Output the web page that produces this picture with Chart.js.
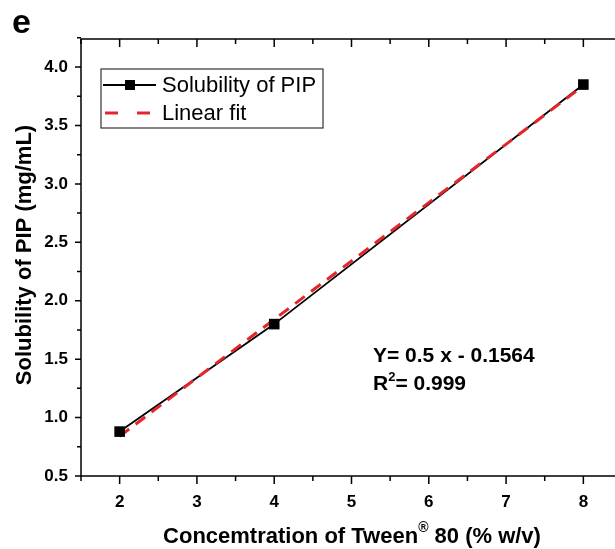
<!DOCTYPE html>
<html lang="en">
<head>
<meta charset="UTF-8">
<title>Solubility of PIP</title>
<script src="https://cdn.jsdelivr.net/npm/chart.js@4.4.0/dist/chart.umd.min.js"></script>
<style>
  html, body { margin: 0; padding: 0; background: #fff; overflow: hidden; }
  #wrap { width: 632px; height: 549px; }
</style>
</head>
<body>
<div id="wrap"><canvas id="myChart" width="632" height="549"></canvas></div>
<script>
// values
const tweenConc = [2, 4, 8];
const solubility = [0.88, 1.80, 3.85];
const fitX = [2, 8];
const fitY = [0.84, 3.84];
const yTicks = [0.5, 1.0, 1.5, 2.0, 2.5, 3.0, 3.5, 4.0];
const xTicks = [2, 3, 4, 5, 6, 7, 8];

const FONT = "'Liberation Sans', Arial, sans-serif";
const RED = '#e3262b';

// box + ticks + legend + text, Origin style
const frame = {
  id: 'frame',
  afterDraw(chart) {
    const ctx = chart.ctx, a = chart.chartArea;
    const xs = chart.scales.x, ys = chart.scales.y;
    ctx.save();
    ctx.strokeStyle = '#000';
    ctx.lineWidth = 1.5;
    ctx.strokeRect(a.left, a.top, a.right - a.left, a.bottom - a.top);

    // y ticks: outward on left, inward on right
    for (let v = 0.5; v <= 4.25; v += 0.25) {
      const py = ys.getPixelForValue(v);
      const major = Math.abs(v * 2 - Math.round(v * 2)) < 1e-6;
      const len = major ? 6 : 4;
      ctx.beginPath();
      ctx.moveTo(a.left, py); ctx.lineTo(a.left - len, py);
      ctx.moveTo(a.right, py); ctx.lineTo(a.right - len, py);
      ctx.stroke();
    }
    // x ticks: outward on bottom, inward on top
    for (let v = 1.5; v <= 8.5; v += 0.5) {
      const px = xs.getPixelForValue(v);
      const major = Math.abs(v - Math.round(v)) < 1e-6;
      const len = major ? 8 : 5;
      ctx.beginPath();
      ctx.moveTo(px, a.bottom); ctx.lineTo(px, a.bottom + len);
      ctx.moveTo(px, a.top); ctx.lineTo(px, a.top + len);
      ctx.stroke();
    }

    // legend
    ctx.strokeStyle = '#333';
    ctx.lineWidth = 1.2;
    ctx.strokeRect(101, 69, 222, 59);
    ctx.strokeStyle = '#000';
    ctx.lineWidth = 1.8;
    ctx.beginPath(); ctx.moveTo(103, 85); ctx.lineTo(156, 85); ctx.stroke();
    ctx.fillStyle = '#000';
    ctx.fillRect(125, 80, 10, 10);
    ctx.strokeStyle = RED;
    ctx.lineWidth = 3;
    ctx.beginPath();
    ctx.moveTo(105, 113); ctx.lineTo(118, 113);
    ctx.moveTo(137, 113); ctx.lineTo(150, 113);
    ctx.stroke();
    ctx.font = '22px ' + FONT;
    ctx.textBaseline = 'alphabetic';
    ctx.textAlign = 'left';
    ctx.fillText(chart.data.datasets[0].label, 162, 92);
    ctx.fillText(chart.data.datasets[1].label, 162, 120);

    // equation
    ctx.font = 'bold 21px ' + FONT;
    ctx.fillText('Y= 0.5 x - 0.1564', 373, 362);
    ctx.fillText('R', 373, 390);
    let w = ctx.measureText('R').width;
    ctx.font = 'bold 13px ' + FONT;
    ctx.fillText('2', 373 + w, 381);
    let w2 = ctx.measureText('2').width;
    ctx.font = 'bold 21px ' + FONT;
    ctx.fillText('= 0.999', 373 + w + w2, 390);

    // panel letter
    ctx.font = 'bold 34px ' + FONT;
    ctx.fillText('e', 12, 33);

    // axis titles
    ctx.font = 'bold 22px ' + FONT;
    ctx.textAlign = 'center';
    ctx.textBaseline = 'middle';
    ctx.save();
    ctx.translate(25, 255);
    ctx.rotate(-Math.PI / 2);
    ctx.fillText('Solubility of PIP (mg/mL)', 0, 0);
    ctx.restore();

    ctx.textBaseline = 'alphabetic';
    const p1 = 'Concemtration of Tween', p2 = ' 80 (% w/v)';
    ctx.textAlign = 'left';
    const w1 = ctx.measureText(p1).width, wb = ctx.measureText(p2).width;
    ctx.font = 'bold 14px ' + FONT;
    const wr = ctx.measureText('\u00AE').width;
    const x0 = 352 - (w1 + wr + wb) / 2;
    ctx.font = 'bold 22px ' + FONT;
    ctx.fillText(p1, x0, 543);
    ctx.font = 'bold 14px ' + FONT;
    ctx.fillText('\u00AE', x0 + w1, 532);
    ctx.font = 'bold 22px ' + FONT;
    ctx.fillText(p2, x0 + w1 + wr, 543);
    ctx.restore();
  }
};

const tickFont = { family: FONT, size: 17, weight: 'bold' };

new Chart(document.getElementById('myChart'), {
  type: 'scatter',
  data: {
    datasets: [{
      label: 'Solubility of PIP',
      data: tweenConc.map((x, i) => ({ x: x, y: solubility[i] })),
      showLine: true,
      borderColor: '#000',
      borderWidth: 1.8,
      pointRadius: 0,
      order: 3
    }, {
      label: 'Linear fit',
      data: fitX.map((x, i) => ({ x: x, y: fitY[i] })),
      showLine: true,
      borderColor: RED,
      borderWidth: 3,
      borderDash: [12, 8],
      pointRadius: 0,
      order: 2
    }, {
      label: 'points',
      data: tweenConc.map((x, i) => ({ x: x, y: solubility[i] })),
      showLine: false,
      pointStyle: 'rect',
      pointRadius: 7.5,
      backgroundColor: '#000',
      borderColor: '#000',
      borderWidth: 0,
      order: 1
    }]
  },
  options: {
    responsive: false,
    animation: false,
    layout: { padding: { top: 39, right: 10, left: 0, bottom: 0 } },
    scales: {
      x: {
        type: 'linear',
        min: 1.5, max: 8.5,
        afterBuildTicks: s => { s.ticks = xTicks.map(v => ({ value: v })); },
        afterFit: s => { s.height = 73; },
        grid: { display: false, drawTicks: false },
        border: { display: false },
        ticks: { color: '#000', font: tickFont, padding: 16 }
      },
      y: {
        min: 0.5, max: 4.24,
        afterBuildTicks: s => { s.ticks = yTicks.map(v => ({ value: v })); },
        afterFit: s => { s.width = 81; },
        grid: { display: false, drawTicks: false },
        border: { display: false },
        ticks: { color: '#000', font: tickFont, padding: 13,
          callback: v => v.toFixed(1) }
      }
    },
    plugins: {
      legend: { display: false },
      tooltip: { enabled: false }
    }
  },
  plugins: [frame]
});
</script>
</body>
</html>
